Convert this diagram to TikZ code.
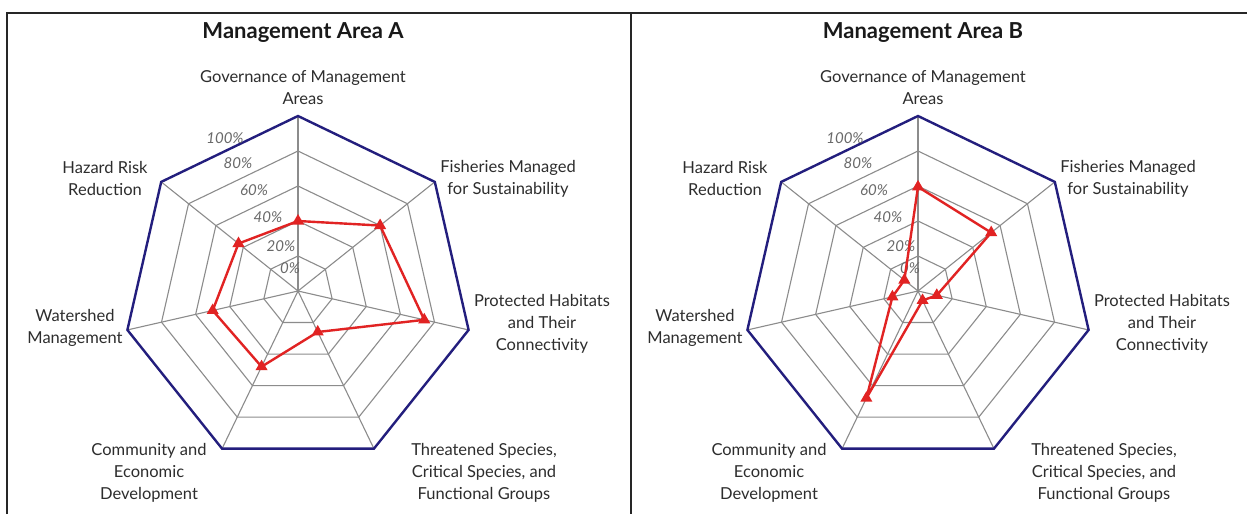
\documentclass[tikz,border=0pt]{standalone}
\usepackage{fontspec}
\setmainfont{Lato}
\usetikzlibrary{shapes.geometric}
\definecolor{navy}{RGB}{35,30,125}
\definecolor{gridgray}{RGB}{140,140,140}
\definecolor{datared}{RGB}{225,35,35}
\definecolor{labelgray}{RGB}{45,45,45}
\definecolor{pctgray}{RGB}{105,105,105}
\tikzset{
  frameline/.style={draw=black!85, line width=2.6pt},
  gridline/.style={draw=gridgray, line width=1.1pt},
  outerline/.style={draw=navy, line width=2.4pt, line join=miter},
  dataline/.style={draw=datared, line width=2.4pt, line join=round},
  marker/.style={regular polygon, regular polygon sides=3, fill=datared, inner sep=0pt, minimum size=14pt},
  axislabel/.style={align=center, text=labelgray, font=\fontsize{16.5}{22}\selectfont},
  pctlabel/.style={text=pctgray, font=\fontsize{15}{16}\selectfont\itshape, inner sep=0pt},
  titlelabel/.style={font=\fontsize{22}{24}\selectfont\bfseries, text=black!90}
}
\newcommand{\radargrid}[3]{%
  \begin{scope}[shift={(#1,291)}, yscale=-1]
    \foreach \r in {35,70,105,140}
      \draw[gridline] (90:\r) \foreach \k in {1,...,6}{ -- ({90-\k*360/7}:\r)} -- cycle;
    \foreach \k in {0,...,6}
      \draw[gridline] (0,0) -- ({90-\k*360/7}:175);
    \draw[outerline] (90:175) \foreach \k in {1,...,6}{ -- ({90-\k*360/7}:175)} -- cycle;
  \end{scope}
  \node[titlelabel] (#3title) at (#1+5,33) {Management Area #2};
  \node[axislabel] (#3gov) at (#1+5,88) {Governance of Management\\Areas};
  \node[axislabel] (#3fish) at (#1+210,179) {Fisheries Managed\\for Sustainability};
  \node[axislabel] (#3prot) at (#1+244,324) {Protected Habitats\\and Their\\Connectivity};
  \node[axislabel] (#3threat) at (#1+186,473) {Threatened Species,\\Critical Species, and\\Functional Groups};
  \node[axislabel] (#3comm) at (#1-149,473) {Community and\\Economic\\Development};
  \node[axislabel] (#3water) at (#1-223,328) {Watershed\\Management};
  \node[axislabel] (#3hazard) at (#1-193,178) {Hazard Risk\\Reduction};
  \node[pctlabel] (#3p100) at (#1-73,138) {100\%};
  \node[pctlabel] (#3p80) at (#1-60,163) {80\%};
  \node[pctlabel] (#3p60) at (#1-44,190) {60\%};
  \node[pctlabel] (#3p40) at (#1-30,217) {40\%};
  \node[pctlabel] (#3p20) at (#1-17,246) {20\%};
  \node[pctlabel] (#3p0) at (#1-8,268) {0\%};
}
% #1 center x, #2 prefix, #3..#9 values (gov, fish, prot, threat, comm, water, hazard)
\newcommand{\radardata}[9]{%
  \begin{scope}[shift={(#1,291)}, yscale=-1]
    \coordinate (#2d0) at (90:{175*#3});
    \coordinate (#2d1) at ({90-1*360/7}:{175*#4});
    \coordinate (#2d2) at ({90-2*360/7}:{175*#5});
    \coordinate (#2d3) at ({90-3*360/7}:{175*#6});
    \coordinate (#2d4) at ({90-4*360/7}:{175*#7});
    \coordinate (#2d5) at ({90-5*360/7}:{175*#8});
    \coordinate (#2d6) at ({90-6*360/7}:{175*#9});
  \end{scope}
  \draw[dataline] (#2d0) -- (#2d1) -- (#2d2) -- (#2d3) -- (#2d4) -- (#2d5) -- (#2d6) -- cycle;
  \foreach \k in {0,...,6}
    \node[marker] (#2m\k) at (#2d\k) {};
}
\begin{document}
\begin{tikzpicture}[x=1pt,y=-1pt]
  \useasboundingbox (0,0) rectangle (1247,514);
  \fill[white] (0,0) rectangle (1247,514);
  \draw[frameline] (7,514) -- (7,13) -- (1247,13);
  \draw[frameline] (631,13) -- (631,514);
  \radargrid{298}{A}{a}
  \radargrid{918}{B}{b}
  \radardata{298}{a}{0.40}{0.60}{0.74}{0.26}{0.48}{0.50}{0.435}
  \radardata{918}{b}{0.595}{0.535}{0.11}{0.06}{0.68}{0.15}{0.10}
\end{tikzpicture}
\end{document}
